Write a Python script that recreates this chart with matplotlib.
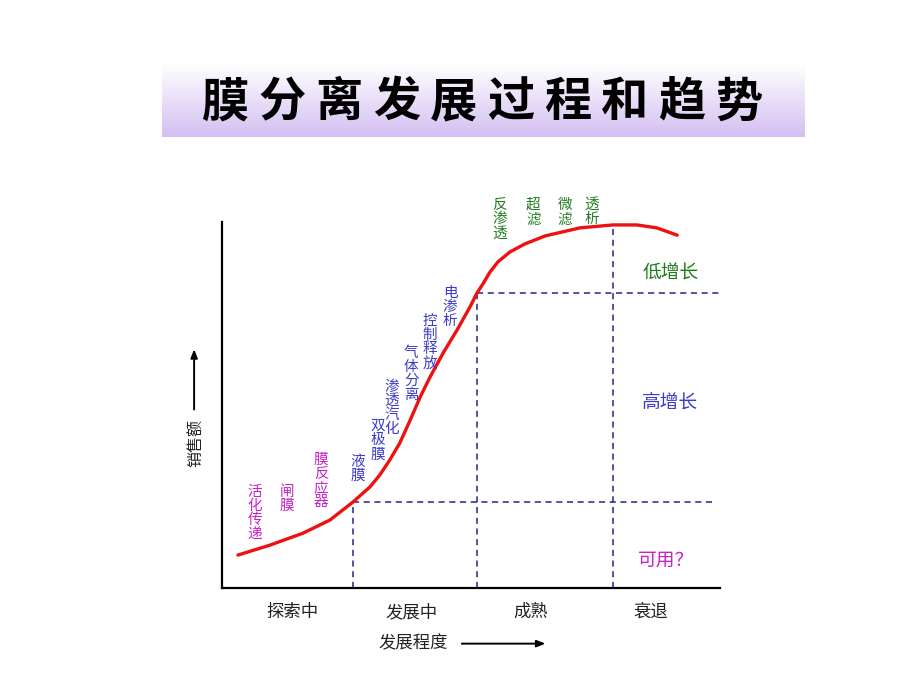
import numpy as np
import matplotlib
matplotlib.use("Agg")
import matplotlib.pyplot as plt
from matplotlib.colors import LinearSegmentedColormap

plt.rcParams['font.family'] = ['Noto Sans CJK SC', 'DejaVu Sans']

# S-curve: development degree (x) vs sales (y), both on a 0-100 scale
dev = [3.2, 9.6, 16.3, 21.7, 26.3, 29.7, 31.7, 33.7, 35.7, 37.8, 39.8, 41.8,
       44.4, 47.2, 49.8, 51.2, 52.4, 53.8, 55.4, 57.8, 60.8, 64.9, 71.9, 78.5,
       83.3, 87.3, 91.4]
sales = [9.0, 11.7, 15.0, 18.6, 23.5, 27.6, 30.9, 35.0, 39.6, 45.9, 52.2, 57.7,
         64.2, 70.5, 76.8, 80.6, 83.1, 86.3, 89.1, 91.8, 94.0, 96.2, 98.4, 99.2,
         99.2, 98.4, 96.4]

# stage boundaries (x) and growth levels (y)
stage_bounds = [26.3, 51.2, 78.5]
stage_tops = [23.5, 80.6, 99.2]
growth_levels = [23.5, 80.6]
growth_starts = [26.3, 51.2]

stages = ["探索中", "发展中", "成熟", "衰退"]
stage_x = [14.1, 38.1, 62.0, 86.0]

growth_names = ["低增长", "高增长", "可用？"]
growth_x = [90.0, 90.0, 89.2]
growth_y = [86.0, 50.8, 7.7]

# membrane processes placed along the curve
memb_names = ["活化传递", "闸膜", "膜反应器", "液膜", "双极膜", "渗透汽化",
              "气体分离", "控制释放", "电渗析", "反渗透", "超滤", "微滤", "透析"]
memb_x = [6.6, 13.1, 19.9, 27.3, 31.3, 34.1, 38.0, 41.8, 45.8, 55.8, 62.5, 68.9, 74.3]
memb_y = [20.5, 24.3, 29.2, 32.5, 40.4, 49.2, 58.5, 67.2, 76.8, 100.8, 102.7, 102.7, 102.7]
memb_group = [0, 0, 0, 1, 1, 1, 1, 1, 1, 2, 2, 2, 2]

col_mag = "#c822c8"
col_blue = "#3c3cc8"
col_green = "#1f7d1f"
group_cols = [col_mag, col_blue, col_green]
dash_col = "#25258a"

fig = plt.figure(figsize=(9.2, 6.9), dpi=100)

# title banner with white -> lavender gradient
bax = fig.add_axes([162/920, (690-137)/690, 643/920, 74/690])
cmap = LinearSegmentedColormap.from_list("ban", ["#ffffff", "#d4bff2"])
grad = np.linspace(0, 1, 100).reshape(-1, 1)
bax.imshow(grad, aspect="auto", cmap=cmap, extent=[0, 1, 0, 1], origin="upper")
bax.set_xlim(0, 1)
bax.set_ylim(0, 1)
bax.axis("off")
title = "膜分离发展过程和趋势"
tx = np.linspace((225-162)/643, (739-162)/643, len(title))
for ch, xx in zip(title, tx):
    bax.text(xx, 0.47, ch, ha="center", va="center", fontsize=34,
             fontweight="bold", color="black")

ax = fig.add_axes([222/920, (690-588)/690, 498/920, 366/690])
ax.set_xlim(0, 100)
ax.set_ylim(0, 100)
for s in ["top", "right"]:
    ax.spines[s].set_visible(False)
for s in ["left", "bottom"]:
    ax.spines[s].set_linewidth(1.6)
    ax.spines[s].set_color("black")
ax.set_xticks([])
ax.set_yticks([])

# dashed guides
for xb, yt in zip(stage_bounds, stage_tops):
    ax.plot([xb, xb], [0, yt], ls=(0, (4, 3)), color=dash_col, lw=1.1, zorder=2)
ax.plot([growth_starts[0], 99], [growth_levels[0]] * 2, ls=(0, (4, 3)),
        color=dash_col, lw=1.1, zorder=2)
ax.plot([growth_starts[1], 100], [growth_levels[1]] * 2, ls=(0, (4, 3)),
        color=dash_col, lw=1.1, zorder=2)

ax.plot(dev, sales, color="#ee1111", lw=2.4, solid_capstyle="round",
        solid_joinstyle="round", zorder=3)

for name, x, y, g in zip(memb_names, memb_x, memb_y, memb_group):
    ax.text(x, y, "\n".join(name), ha="center", va="center", fontsize=10.5,
            color=group_cols[g], linespacing=1.02, clip_on=False)

for name, x, y, c in zip(growth_names, growth_x, growth_y,
                         [col_green, col_blue, col_mag]):
    ax.text(x, y, name, ha="center", va="center", fontsize=13.5, color=c)

for name, x in zip(stages, stage_x):
    ax.text(x, -6.6, name, ha="center", va="center", fontsize=12.5, color="#222222")

ax.text(38.4, -15.0, "发展程度", ha="center", va="center", fontsize=12.5, color="#222222")
ax.annotate("", xy=(65.5, -15.2), xytext=(47.6, -15.2), xycoords="data",
            arrowprops=dict(arrowstyle="-|>,head_length=0.5,head_width=0.2",
                            color="black", lw=1.4), annotation_clip=False)

ax.text(-5.0, 39.6, "销售额", ha="center", va="center", rotation=90,
        fontsize=11.5, color="#222222")
ax.annotate("", xy=(-5.6, 66.0), xytext=(-5.6, 48.0), xycoords="data",
            arrowprops=dict(arrowstyle="-|>,head_length=0.5,head_width=0.2",
                            color="black", lw=1.4), annotation_clip=False)

fig.savefig("out.png", dpi=100)
